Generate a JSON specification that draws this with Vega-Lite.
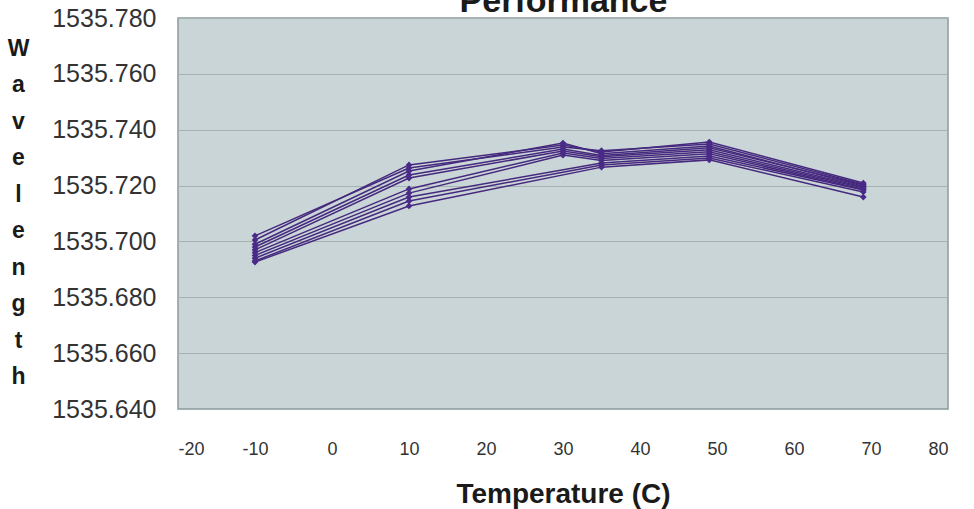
{
  "$schema": "https://vega.github.io/schema/vega-lite/v6.json",
  "autosize": {"type": "none"},
  "width": 770,
  "height": 391,
  "padding": {"left": 178, "top": 18, "right": 26, "bottom": 100},
  "background": "white",
  "config": {
    "view": {"fill": "#c9d5d7", "stroke": "#8d9a9c", "strokeWidth": 1.5},
    "axis": {
      "labelFont": "Liberation Sans",
      "titleFont": "Liberation Sans",
      "labelColor": "#333333",
      "titleColor": "#1a1a1a",
      "domain": false,
      "ticks": false
    }
  },
  "data": {
    "values": [
      {"s": "A", "t": -10, "w": 1535.702}, {"s": "A", "t": 10, "w": 1535.7263}, {"s": "A", "t": 30, "w": 1535.7338}, {"s": "A", "t": 35, "w": 1535.7325}, {"s": "A", "t": 49, "w": 1535.7349}, {"s": "A", "t": 69, "w": 1535.7205},
      {"s": "B", "t": -10, "w": 1535.7005}, {"s": "B", "t": 10, "w": 1535.7274}, {"s": "B", "t": 30, "w": 1535.7345}, {"s": "B", "t": 35, "w": 1535.7320}, {"s": "B", "t": 49, "w": 1535.7356}, {"s": "B", "t": 69, "w": 1535.7209},
      {"s": "C", "t": -10, "w": 1535.699}, {"s": "C", "t": 10, "w": 1535.7252}, {"s": "C", "t": 30, "w": 1535.7352}, {"s": "C", "t": 35, "w": 1535.7314}, {"s": "C", "t": 49, "w": 1535.7342}, {"s": "C", "t": 69, "w": 1535.7198},
      {"s": "D", "t": -10, "w": 1535.698}, {"s": "D", "t": 10, "w": 1535.7238}, {"s": "D", "t": 30, "w": 1535.7331}, {"s": "D", "t": 35, "w": 1535.7308}, {"s": "D", "t": 49, "w": 1535.7335}, {"s": "D", "t": 69, "w": 1535.7202},
      {"s": "E", "t": -10, "w": 1535.697}, {"s": "E", "t": 10, "w": 1535.7227}, {"s": "E", "t": 30, "w": 1535.7324}, {"s": "E", "t": 35, "w": 1535.7303}, {"s": "E", "t": 49, "w": 1535.7328}, {"s": "E", "t": 69, "w": 1535.7195},
      {"s": "F", "t": -10, "w": 1535.696}, {"s": "F", "t": 10, "w": 1535.7188}, {"s": "F", "t": 30, "w": 1535.7317}, {"s": "F", "t": 35, "w": 1535.7297}, {"s": "F", "t": 49, "w": 1535.7321}, {"s": "F", "t": 69, "w": 1535.7191},
      {"s": "G", "t": -10, "w": 1535.695}, {"s": "G", "t": 10, "w": 1535.7173}, {"s": "G", "t": 30, "w": 1535.7309}, {"s": "G", "t": 35, "w": 1535.7290}, {"s": "G", "t": 49, "w": 1535.7314}, {"s": "G", "t": 69, "w": 1535.7187},
      {"s": "H", "t": -10, "w": 1535.694}, {"s": "H", "t": 10, "w": 1535.7159}, {"s": "H", "t": 35, "w": 1535.7281}, {"s": "H", "t": 49, "w": 1535.7306}, {"s": "H", "t": 69, "w": 1535.7184},
      {"s": "I", "t": -10, "w": 1535.693}, {"s": "I", "t": 10, "w": 1535.7145}, {"s": "I", "t": 35, "w": 1535.7274}, {"s": "I", "t": 49, "w": 1535.7299}, {"s": "I", "t": 69, "w": 1535.7177},
      {"s": "J", "t": -10, "w": 1535.6926}, {"s": "J", "t": 10, "w": 1535.7127}, {"s": "J", "t": 35, "w": 1535.7266}, {"s": "J", "t": 49, "w": 1535.7292}, {"s": "J", "t": 69, "w": 1535.7159}
    ]
  },
  "layer": [
    {
      "mark": {"type": "line", "strokeOpacity": 0},
      "encoding": {
        "x": {
          "field": "t",
          "type": "quantitative",
          "scale": {"domain": [-20, 80], "nice": false},
          "axis": {
            "orient": "top",
            "labels": false,
            "grid": false,
            "title": "Performance",
            "titleFontSize": 34,
            "titleFontWeight": "bold",
            "titleBaseline": "alphabetic",
            "titleAlign": "center",
            "titleAnchor": "middle",
            "titleX": 385,
            "titleY": -7
          }
        },
        "y": {
          "field": "w",
          "type": "quantitative",
          "scale": {"domain": [1535.64, 1535.78], "nice": false, "zero": false},
          "axis": {
            "values": [1535.64, 1535.66, 1535.68, 1535.70, 1535.72, 1535.74, 1535.76, 1535.78],
            "format": ".3f",
            "grid": true,
            "gridColor": "#a5b2b4",
            "gridWidth": 1,
            "labelFontSize": 25,
            "labelPadding": 22,
            "title": ["W", "a", "v", "e", "l", "e", "n", "g", "t", "h"],
            "titleFontSize": 23,
            "titleFontWeight": "bold",
            "titleAngle": 0,
            "titleAlign": "center",
            "titleBaseline": "top",
            "titleLineHeight": 36.5,
            "titleX": -160,
            "titleY": 19
          }
        },
        "detail": {"field": "s", "type": "nominal"}
      }
    },
    {
      "mark": {
        "type": "line",
        "color": "#46297e",
        "strokeWidth": 1.5,
        "point": {"filled": true, "shape": "diamond", "size": 45, "color": "#4a2a88"}
      },
      "encoding": {
        "x": {
          "field": "t",
          "type": "quantitative",
          "scale": {"domain": [-20, 80], "nice": false},
          "axis": {
            "orient": "bottom",
            "values": [-20, -10, 0, 10, 20, 30, 40, 50, 60, 70, 80],
            "labelExpr": "'' + datum.value",
            "grid": false,
            "labelFontSize": 18,
            "labelPadding": 31,
            "title": "Temperature (C)",
            "titleFontSize": 28,
            "titleFontWeight": "bold",
            "titlePadding": 22
          }
        },
        "y": {
          "field": "w",
          "type": "quantitative",
          "scale": {"domain": [1535.64, 1535.78], "nice": false, "zero": false},
          "axis": {
            "values": [1535.64, 1535.66, 1535.68, 1535.70, 1535.72, 1535.74, 1535.76, 1535.78],
            "format": ".3f",
            "grid": true,
            "gridColor": "#a5b2b4",
            "gridWidth": 1,
            "labelFontSize": 25,
            "labelPadding": 22,
            "title": ["W", "a", "v", "e", "l", "e", "n", "g", "t", "h"],
            "titleFontSize": 23,
            "titleFontWeight": "bold",
            "titleAngle": 0,
            "titleAlign": "center",
            "titleBaseline": "top",
            "titleLineHeight": 36.5,
            "titleX": -160,
            "titleY": 19
          }
        },
        "detail": {"field": "s", "type": "nominal"}
      }
    }
  ]
}
